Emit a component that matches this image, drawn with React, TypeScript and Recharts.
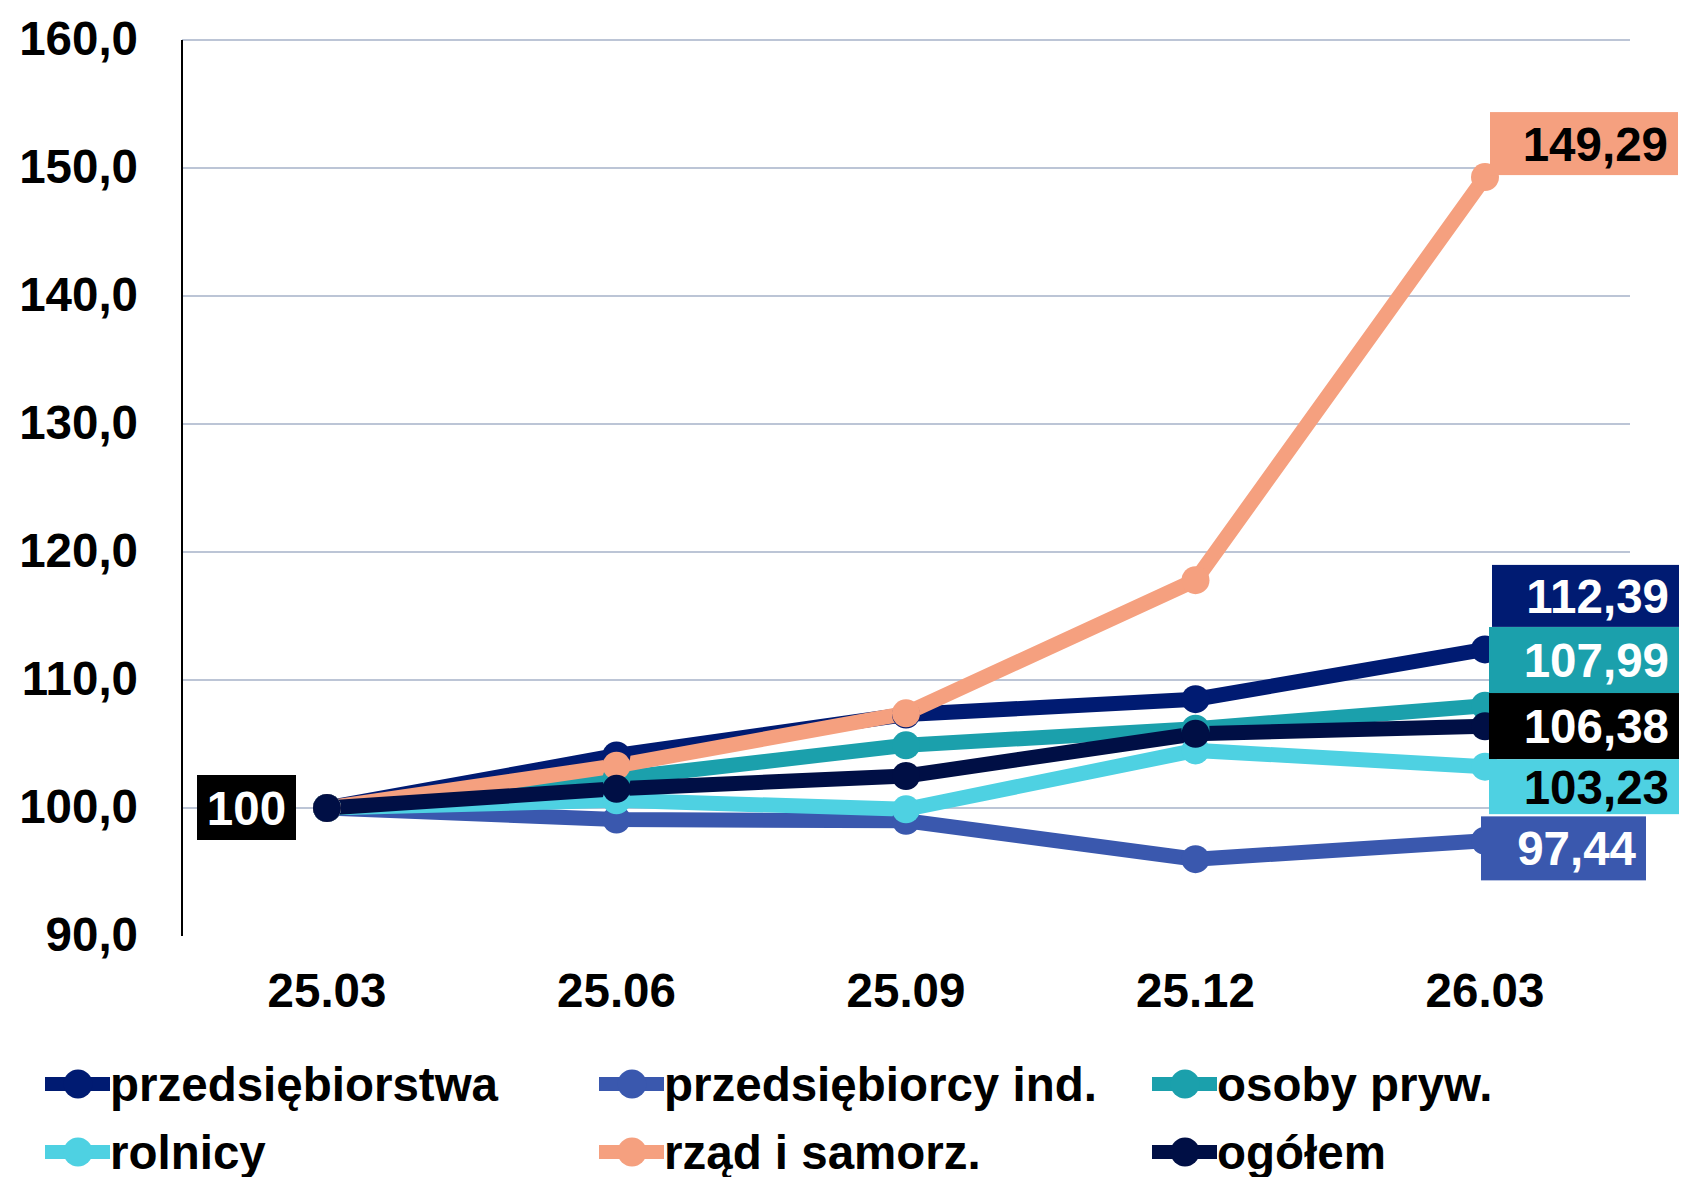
import React from 'react';
import { LineChart, Line, XAxis, YAxis, CartesianGrid, Legend, LabelList } from 'recharts';

const dates = ['25.03', '25.06', '25.09', '25.12', '26.03'];
const przedsiebiorstwa = [100, 104.1, 107.3, 108.5, 112.39];
const przedsiebiorcyInd = [100, 99.1, 99.0, 96.0, 97.44];
const osobyPryw = [100, 102.3, 104.9, 106.2, 107.99];
const rolnicy = [100, 100.6, 99.9, 104.5, 103.23];
const rzad = [100, 103.3, 107.4, 117.8, 149.29];
const ogolem = [100, 101.5, 102.5, 105.8, 106.38];
const yTicks = [90, 100, 110, 120, 130, 140, 150, 160];
const gridValues = [100, 110, 120, 130, 140, 150, 160];

const FONT = '"Liberation Sans", Arial, sans-serif';
const FS = 47.5;

const seriesDefs = [
  { key: 'przedsiebiorstwa', name: 'przedsiębiorstwa', values: przedsiebiorstwa },
  { key: 'przedsiebiorcyInd', name: 'przedsiębiorcy ind.', values: przedsiebiorcyInd },
  { key: 'osobyPryw', name: 'osoby pryw.', values: osobyPryw },
  { key: 'rolnicy', name: 'rolnicy', values: rolnicy },
  { key: 'rzad', name: 'rząd i samorz.', values: rzad },
  { key: 'ogolem', name: 'ogółem', values: ogolem },
];

const styles: Record<string, any> = {
  przedsiebiorstwa: { color: '#001B72', box: { dx: 7, dy: -84.5, w: 187, h: 62, fill: '#001B72', text: '#ffffff' } },
  przedsiebiorcyInd: { color: '#3A58AE', box: { dx: -4, dy: -24.4, w: 165, h: 64, fill: '#3A58AE', text: '#ffffff' } },
  osobyPryw: { color: '#1BA0AC', box: { dx: 4, dy: -78.7, w: 190, h: 66, fill: '#1BA0AC', text: '#ffffff' } },
  rolnicy: { color: '#4ED1E2', box: { dx: 4, dy: -7.5, w: 190, h: 55, fill: '#4ED1E2', text: '#000000' } },
  rzad: { color: '#F5A07F', box: { dx: 5, dy: -65, w: 188, h: 63, fill: '#F5A07F', text: '#000000' } },
  ogolem: { color: '#000F45', box: { dx: 4, dy: -33.3, w: 190, h: 66, fill: '#000000', text: '#ffffff' } },
};

const data = dates.map((d, i) => {
  const row: Record<string, any> = { date: d };
  seriesDefs.forEach((s) => {
    row[s.key] = s.values[i];
  });
  return row;
});

const fmt2 = (v: number) => v.toFixed(2).replace('.', ',');

const makeLabel = (key: string) => (props: any) => {
  const { x, y, value, index } = props;
  const st = styles[key].box;
  if (index === dates.length - 1) {
    const rx = x + st.dx;
    const ry = y + st.dy;
    return (
      <g>
        <rect x={rx} y={ry} width={st.w} height={st.h} fill={st.fill} />
        <text
          x={rx + st.w - 10}
          y={ry + st.h / 2 + 17}
          textAnchor="end"
          fontFamily={FONT}
          fontWeight="bold"
          fontSize={FS}
          fill={st.text}
        >
          {fmt2(Number(value))}
        </text>
      </g>
    );
  }
  if (index === 0 && key === 'ogolem') {
    return (
      <g>
        <rect x={x - 130} y={y - 33} width={99} height={65} fill="#000000" />
        <text
          x={x - 80.5}
          y={y + 17}
          textAnchor="middle"
          fontFamily={FONT}
          fontWeight="bold"
          fontSize={FS}
          fill="#ffffff"
        >
          {String(value)}
        </text>
      </g>
    );
  }
  return null;
};

const XTick = (props: any) => {
  const { x, y, payload } = props;
  return (
    <text x={x} y={y + 71} textAnchor="middle" fontFamily={FONT} fontWeight="bold" fontSize={FS} fill="#000">
      {payload.value}
    </text>
  );
};

const YTick = (props: any) => {
  const { x, y, payload } = props;
  return (
    <text x={x - 44} y={y + 15} textAnchor="end" fontFamily={FONT} fontWeight="bold" fontSize={FS} fill="#000">
      {Number(payload.value).toFixed(1).replace('.', ',')}
    </text>
  );
};

const colLefts = [45, 599, 1152];
const rowCenters = [48, 116];

const LegendContent = (props: any) => {
  const payload = (props.payload || []).slice();
  const order = seriesDefs.map((s) => s.key);
  payload.sort((a: any, b: any) => order.indexOf(a.dataKey) - order.indexOf(b.dataKey));
  return (
    <div style={{ position: 'relative', width: 1683, height: 141 }}>
      {payload.map((p: any, i: number) => {
        const col = i % 3;
        const row = Math.floor(i / 3);
        const key = p.dataKey;
        const color = styles[key] ? styles[key].color : p.color;
        return (
          <div
            key={key}
            style={{
              position: 'absolute',
              left: colLefts[col],
              top: rowCenters[row] - 30,
              height: 60,
              display: 'flex',
              alignItems: 'center',
              fontFamily: FONT,
              fontWeight: 'bold',
              fontSize: FS,
              color: '#000',
              whiteSpace: 'nowrap',
            }}
          >
            <svg width={65} height={30} style={{ display: 'block' }}>
              <line x1={0} y1={15} x2={65} y2={15} stroke={color} strokeWidth={14} />
              <circle cx={33} cy={15} r={14.5} fill={color} />
            </svg>
            <span>{p.value}</span>
          </div>
        );
      })}
    </div>
  );
};

export default function App() {
  return (
    <div style={{ position: 'absolute', left: 0, top: 0, width: 1683, height: 1177, background: '#fff' }}>
      <LineChart width={1683} height={1177} data={data} margin={{ top: 40, right: 53, bottom: 0, left: 0 }}>
        <CartesianGrid
          vertical={false}
          stroke="#BCC5D6"
          strokeWidth={2}
          horizontalValues={gridValues}
        />
        <XAxis
          dataKey="date"
          axisLine={false}
          tickLine={false}
          tickSize={0}
          tickMargin={0}
          height={100}
          padding={{ left: 145, right: 145 }}
          tick={<XTick />}
          interval={0}
        />
        <YAxis
          domain={[90, 160]}
          ticks={yTicks}
          width={182}
          axisLine={{ stroke: '#000', strokeWidth: 2 }}
          tickLine={false}
          tickSize={0}
          tickMargin={0}
          tick={<YTick />}
          interval={0}
        />
        <Legend
          verticalAlign="bottom"
          align="left"
          height={141}
          itemSorter={null as any}
          wrapperStyle={{ left: 0, width: 1683 }}
          content={<LegendContent />}
        />
        {seriesDefs.map((s) => (
          <Line
            key={s.key}
            dataKey={s.key}
            name={s.name}
            stroke={styles[s.key].color}
            strokeWidth={15}
            dot={{ r: 14, fill: styles[s.key].color, stroke: 'none', strokeWidth: 0 }}
            activeDot={false}
            isAnimationActive={false}
          >
            <LabelList dataKey={s.key} content={makeLabel(s.key)} />
          </Line>
        ))}
      </LineChart>
    </div>
  );
}
